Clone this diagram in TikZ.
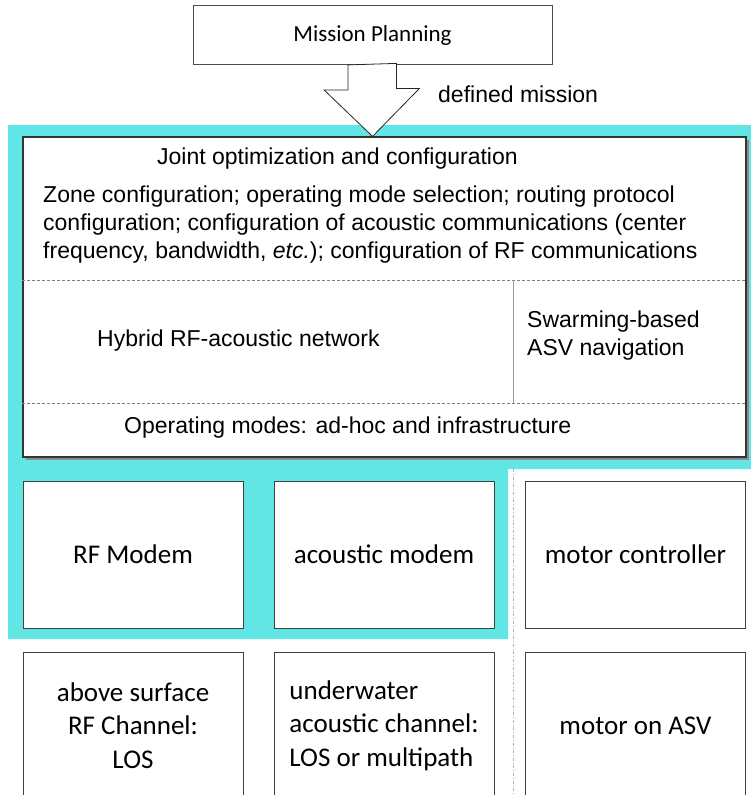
\documentclass[tikz,border=0pt]{standalone}
\usepackage{fontspec}
\setmainfont{Liberation Sans}
\newfontfamily\calibri{Carlito}
\usetikzlibrary{calc}
\definecolor{swarmcyan}{RGB}{98,229,229}

\begin{document}
\begin{tikzpicture}[x=1pt, y=-1pt,
  every node/.style={font=\fontsize{23}{28}\selectfont, inner sep=0pt},
  blockbox/.style={draw=black!75, line width=0.9pt, fill=white, minimum width=220pt,
    minimum height=147pt, align=center, font=\calibri\fontsize{27}{33.5}\selectfont},
  sepline/.style={gray, line width=0.6pt, dash pattern=on 3pt off 2pt}]
  \useasboundingbox (0,0) rectangle (751,795);
  \clip (0,0) rectangle (751,795);
  % highlighted part
  \fill[swarmcyan] (8,125) -- (751,125) -- (751,469) -- (508,469) -- (508,639) -- (8,639) -- cycle;
  \draw[gray!60, line width=0.6pt, dash dot] (513,469) -- (513,795);
  % mission planning and hollow arrow
  \node[draw=black!70, line width=0.8pt, fill=white, minimum width=359pt, minimum height=59pt,
    font=\calibri\fontsize{23}{28}\selectfont] (mission) at (372.5,35) {Mission Planning};
  \fill[black!45] (26,140) rectangle (748.5,459.5);
  \node[draw=black!80, line width=1.2pt, fill=white, minimum width=723pt, minimum height=320pt] (main) at (384.5,297) {};
  \coordinate (tip) at (mission.south |- main.north);
  \draw[black!85, line width=0.8pt, fill=white] ($(mission.south)+(-24.5,0)$) -- ++(0,25) -- ++(-24,0)
    -- (tip) -- ++(47,-48) -- ++(-23,0) -- ++(0,-25) -- cycle;
  \node[anchor=west] (defined) at (438,94) {defined mission};
  % inside the main box
  \draw[sepline] (main.west |- 0,280) -- (main.east |- 0,280);
  \draw[sepline] (main.west |- 0,403) -- (main.east |- 0,403);
  \draw[gray!80, line width=0.9pt] (513,280) -- (513,403);
  \node[anchor=west] (joint) at (157,159) {Joint optimization and configuration};
  \node[anchor=west, align=left] (config) at (43,225) {Zone configuration; operating mode selection; routing protocol\\
    configuration; configuration of acoustic communications (center\\
    frequency, bandwidth, \textit{etc.}); configuration of RF communications};
  \node[anchor=west] (hybrid) at (97,341) {Hybrid RF-acoustic network};
  \node[anchor=west, align=left] (swarm) at (527,336) {Swarming-based\\ASV navigation};
  \node[anchor=west] (opmodes) at (124,428) {Operating modes: ad-hoc and infrastructure};
  % modems and channels
  \node[blockbox] (rfmodem) at (133,554.5) {RF Modem};
  \node[blockbox] (acmodem) at (384,554.5) {acoustic modem};
  \node[blockbox] (motorctl) at (635.5,554.5) {motor controller};
  \node[blockbox] (rfchan) at (133,725.5) {above surface\\RF Channel:\\LOS};
  \node[blockbox, align=left] (acchan) at (384,725.5) {underwater\\acoustic channel:\\LOS or multipath};
  \node[blockbox] (motor) at (635.5,725.5) {motor on ASV};
\end{tikzpicture}
\end{document}
